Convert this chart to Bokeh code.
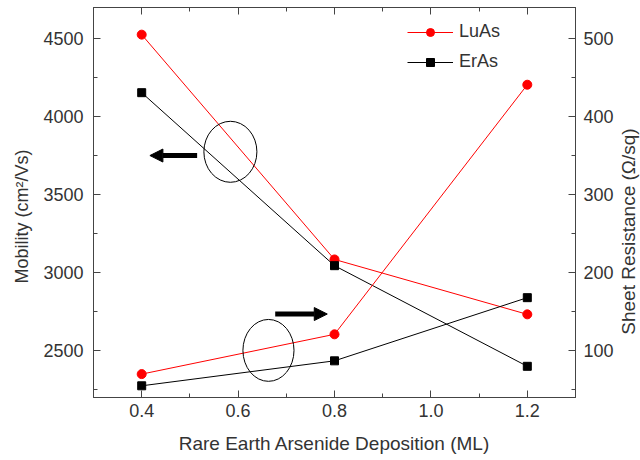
import math
from bokeh.plotting import figure
from bokeh.models import (Range1d, LinearAxis, Legend, LegendItem, Arrow,
                          NormalHead, FixedTicker, Label)
from bokeh.embed import file_html
from bokeh.resources import INLINE

# ---- data ----
deposition = [0.4, 0.8, 1.2]
luas_mobility = [4526, 3085, 2733]
eras_mobility = [4154, 3045, 2400]
luas_resistance = [70, 121, 441]
eras_resistance = [55, 87, 168]

x_ticks = [0.4, 0.6, 0.8, 1.0, 1.2]
x_tick_labels = ["0.4", "0.6", "0.8", "1.0", "1.2"]
x_minor = [0.3, 0.5, 0.7, 0.9, 1.1, 1.3]
mob_ticks = [2500, 3000, 3500, 4000, 4500]
mob_minor = [2250, 2750, 3250, 3750, 4250]
res_ticks = [100, 200, 300, 400, 500]
res_minor = [50, 150, 250, 350, 450]

# annotation positions (data units)
ell1 = dict(x=0.584, y=3775, w=0.110, h=391)
ell2 = dict(x=0.663, y=2502, w=0.106, h=397)
arr1 = dict(x0=0.515, x1=0.417, y=3751)
arr2 = dict(x0=0.677, x1=0.785, y=2735)

FONT = "Liberation Sans"
TXT = "#333333"
AX = "#444444"

p = figure(width=640, height=460, x_range=Range1d(0.3, 1.3),
           y_range=Range1d(2200, 4700), output_backend="svg",
           toolbar_location=None, min_border_left=93, min_border_right=65,
           min_border_top=7, min_border_bottom=63)
p.extra_y_ranges = {"res": Range1d(40, 540)}
p.xgrid.visible = False
p.ygrid.visible = False
p.outline_line_color = AX
p.background_fill_color = "white"
p.border_fill_color = "white"


def style(ax, size="18px"):
    ax.axis_line_color = AX
    ax.major_tick_line_color = AX
    ax.minor_tick_line_color = AX
    ax.major_tick_in = 7
    ax.major_tick_out = 0
    ax.minor_tick_in = 4
    ax.minor_tick_out = 0
    ax.major_label_text_font = FONT
    ax.major_label_text_font_size = size
    ax.major_label_text_color = TXT
    ax.axis_label_text_font = FONT
    ax.axis_label_text_font_size = "19px"
    ax.axis_label_text_font_style = "normal"
    ax.axis_label_text_color = TXT


xa = p.xaxis[0]
xa.ticker = FixedTicker(ticks=x_ticks, minor_ticks=x_minor)
xa.major_label_overrides = dict(zip(x_ticks, x_tick_labels))
xa.axis_label = "Rare Earth Arsenide Deposition (ML)"
style(xa)
xa.major_label_standoff = 6
xa.axis_label_standoff = 13

ya = p.yaxis[0]
ya.ticker = FixedTicker(ticks=mob_ticks, minor_ticks=mob_minor)
style(ya)
ya.major_label_standoff = 10

ra = LinearAxis(y_range_name="res",
                ticker=FixedTicker(ticks=res_ticks, minor_ticks=res_minor))
style(ra)
ra.major_label_standoff = 8
p.add_layout(ra, "right")

ta = LinearAxis(ticker=FixedTicker(ticks=x_ticks, minor_ticks=x_minor))
style(ta)
ta.major_label_overrides = {t: "" for t in x_ticks}
ta.major_label_standoff = 0
p.add_layout(ta, "above")

# vertical axis titles, both reading bottom-to-top, in the side panels
for txt, cx, cy, side, fs in (("Mobility (cm²/Vs)", 21, 216, "left", "18px"),
                              ("Sheet Resistance (Ω/sq)", 628, 231, "right",
                               "19px")):
    lab = Label(x=cx, y=cy, x_units="canvas", y_units="canvas",
                text=txt, angle=math.pi / 2, text_align="center",
                text_baseline="middle", text_font=FONT,
                text_font_size=fs, text_color=TXT)
    p.add_layout(lab, side)

RED = "#ff0000"
BLK = "#000000"

l1 = p.line(deposition, luas_mobility, line_color=RED, line_width=1)
s1 = p.scatter(deposition, luas_mobility, marker="circle", size=9,
               fill_color=RED, line_color=RED)
l2 = p.line(deposition, eras_mobility, line_color=BLK, line_width=1)
s2 = p.scatter(deposition, eras_mobility, marker="square", size=8,
               fill_color=BLK, line_color=BLK)
p.line(deposition, luas_resistance, line_color=RED, line_width=1,
       y_range_name="res")
p.scatter(deposition, luas_resistance, marker="circle", size=9,
          fill_color=RED, line_color=RED, y_range_name="res")
p.line(deposition, eras_resistance, line_color=BLK, line_width=1,
       y_range_name="res")
p.scatter(deposition, eras_resistance, marker="square", size=8,
          fill_color=BLK, line_color=BLK, y_range_name="res")

for e in (ell1, ell2):
    p.ellipse(x=e["x"], y=e["y"], width=e["w"], height=e["h"],
              fill_color=None, line_color=BLK, line_width=1)

for a in (arr1, arr2):
    p.add_layout(Arrow(end=NormalHead(size=13, fill_color=BLK, line_color=BLK),
                       x_start=a["x0"], y_start=a["y"], x_end=a["x1"],
                       y_end=a["y"], line_width=5, line_color=BLK))

legend = Legend(items=[LegendItem(label="LuAs", renderers=[l1, s1]),
                       LegendItem(label="ErAs", renderers=[l2, s2])],
                location=(314, 325))
legend.border_line_color = None
legend.background_fill_alpha = 0
legend.padding = 0
legend.margin = 0
legend.glyph_width = 46
legend.glyph_height = 20
legend.spacing = 9
legend.label_standoff = 6
legend.label_text_font = FONT
legend.label_text_font_size = "18px"
legend.label_text_color = TXT
p.add_layout(legend)

open("out.html", "w").write(file_html(p, INLINE))
